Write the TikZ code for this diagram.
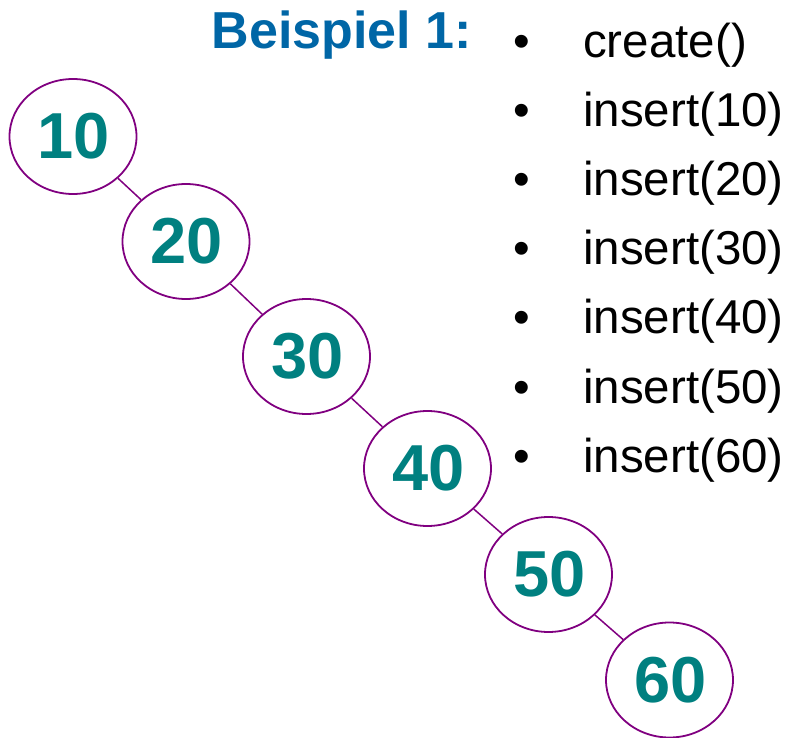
\documentclass[tikz,border=0pt]{standalone}
\usepackage{fontspec}
\setmainfont{Liberation Sans}
\usetikzlibrary{shapes.geometric}
\definecolor{titleblue}{RGB}{0,102,166}
\definecolor{numteal}{RGB}{0,128,128}
\definecolor{edgepurple}{RGB}{128,0,128}
\tikzset{
  treenode/.style={ellipse, draw=edgepurple, line width=1.8pt, minimum width=127pt, minimum height=115pt, inner sep=0pt,
    text=numteal, font=\fontsize{65}{70}\selectfont\bfseries},
  treeedge/.style={draw=edgepurple, line width=1.5pt},
  listtext/.style={anchor=base west, inner sep=0pt, font=\fontsize{47.5}{55}\selectfont, text=black},
  titletext/.style={anchor=base west, inner sep=0pt, font=\fontsize{52}{60}\selectfont\bfseries, text=titleblue}
}
\newcommand{\numtxt}[1]{\raisebox{-2pt}{\hspace{2pt}#1}}
\begin{document}
\begin{tikzpicture}[x=1pt,y=-1pt]
\useasboundingbox (0,0) rectangle (788,738);
\node[titletext] (title) at (211.5,49) {Beispiel 1:};
\node[treenode] (n10) at (73,136.5) {\numtxt{10}};
\node[treenode] (n20) at (186,241.5) {\numtxt{20}};
\node[treenode] (n30) at (306.5,356.5) {\numtxt{30}};
\node[treenode] (n40) at (427.5,468.5) {\numtxt{40}};
\node[treenode] (n50) at (548.5,574.5) {\numtxt{50}};
\node[treenode] (n60) at (669.5,680) {\numtxt{60}};
\draw[treeedge] (n10) -- (n20);
\draw[treeedge] (n20) -- (n30);
\draw[treeedge] (n30) -- (n40);
\draw[treeedge] (n40) -- (n50);
\draw[treeedge] (n50) -- (n60);
\foreach \i/\t [count=\k from 0] in {c/create(),a/insert(10),b/insert(20),d/insert(30),e/insert(40),f/insert(50),g/insert(60)} {
  \node[listtext] (bul\i) at (513,58+69*\k) {•};
  \node[listtext] (item\i) at (583,58+69*\k) {\t};
}
\end{tikzpicture}
\end{document}
